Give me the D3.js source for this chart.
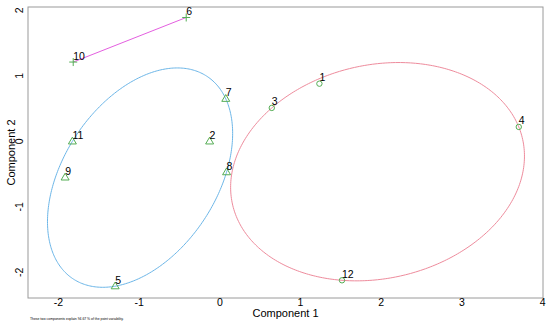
<!DOCTYPE html>
<html>
<head>
<meta charset="utf-8">
<script src="https://cdn.jsdelivr.net/npm/d3@7"></script>
<style>
  body { margin: 0; background: #fff; }
  text { font-family: "Liberation Sans", Arial, sans-serif; }
</style>
</head>
<body>
<svg id="chart" width="550" height="326"></svg>
<script>
// component scores
var labels  = ['1', '2', '3', '4', '5', '6', '7', '8', '9', '10', '11', '12'];
var comp1   = [1.24, -0.12, 0.65, 3.71, -1.29, -0.41, 0.08, 0.09, -1.91, -1.81, -1.82, 1.52];
var comp2   = [0.88, 0.00, 0.51, 0.22, -2.21, 1.89, 0.65, -0.47, -0.55, 1.21, 0.00, -2.12];
var cluster = [1, 2, 1, 1, 2, 3, 2, 2, 2, 3, 2, 1];
var xTicks  = [-2, -1, 0, 1, 2, 3, 4];
var yTicks  = [-2, -1, 0, 1, 2];
var note    = 'These two components explain 94.67 % of the point variability.';

var clusColor = {1: '#ee8b9c', 2: '#6cb6e8', 3: '#e45fe0'};
var shapeOf   = {1: 'circle', 2: 'triangle', 3: 'plus'};
var pointColor = '#55ad55';

var svg = d3.select('#chart');
var padLeft = 28, padRight = 543, padTop = 7, padBottom = 298;
var fmt = d => d < 0 ? '-' + Math.abs(d) : String(d);

var xScale = d3.scaleLinear().domain([-2.37, 4.01]).range([padLeft, padRight]);
var yScale = d3.scaleLinear().domain([-2.39, 2.05]).range([padBottom, padTop]);

// frame
svg.append('rect')
  .attr('x', padLeft).attr('y', padTop)
  .attr('width', padRight - padLeft).attr('height', padBottom - padTop)
  .attr('fill', 'none').attr('stroke', '#9a9a9a').attr('stroke-width', 1);

// axes (labels only, R style)
var xAxis = d3.axisBottom(xScale).tickValues(xTicks).tickFormat(fmt).tickSize(0).tickPadding(1);
svg.append('g')
  .attr('transform', `translate(0, ${padBottom})`)
  .call(xAxis)
  .call(g => g.select('.domain').remove())
  .selectAll('text')
    .attr('font-size', '10.5px').attr('fill', '#000')
    .attr('font-family', '"Liberation Sans", Arial, sans-serif');

svg.append('g').selectAll('text')
  .data(yTicks)
  .enter()
  .append('text')
    .attr('transform', d => `translate(22.5, ${yScale(d)}) rotate(-90)`)
    .attr('text-anchor', 'middle')
    .attr('font-size', '10.5px')
    .text(fmt);

svg.append('text')
  .attr('x', (padLeft + padRight) / 2).attr('y', 316.5)
  .attr('text-anchor', 'middle').attr('font-size', '11px')
  .text('Component 1');

svg.append('text')
  .attr('transform', `translate(15, ${(padTop + padBottom) / 2}) rotate(-90)`)
  .attr('text-anchor', 'middle').attr('font-size', '11px')
  .text('Component 2');

svg.append('text')
  .attr('x', 30).attr('y', 320)
  .attr('font-size', '3.4px')
  .text(note);

// minimum volume ellipse (Khachiyan) for each cluster
function inv3(m) {
  var a = m[0][0], b = m[0][1], c = m[0][2],
      d = m[1][0], e = m[1][1], f = m[1][2],
      g = m[2][0], h = m[2][1], i = m[2][2];
  var A = e * i - f * h, B = -(d * i - f * g), C = d * h - e * g;
  var det = a * A + b * B + c * C;
  return [
    [A / det, -(b * i - c * h) / det, (b * f - c * e) / det],
    [B / det, (a * i - c * g) / det, -(a * f - c * d) / det],
    [C / det, -(a * h - b * g) / det, (a * e - b * d) / det]
  ];
}

function mvee(pts) {
  var n = pts.length, d = 2;
  var u = pts.map(() => 1 / n);
  var Q = pts.map(p => [p[0], p[1], 1]);
  for (var it = 0; it < 20000; it++) {
    var X = [[0, 0, 0], [0, 0, 0], [0, 0, 0]];
    Q.forEach((q, k) => {
      for (var r = 0; r < 3; r++)
        for (var s = 0; s < 3; s++) X[r][s] += u[k] * q[r] * q[s];
    });
    var Xi = inv3(X);
    var M = Q.map(q => {
      var v = 0;
      for (var r = 0; r < 3; r++)
        for (var s = 0; s < 3; s++) v += q[r] * Xi[r][s] * q[s];
      return v;
    });
    var j = d3.maxIndex(M);
    var step = (M[j] - d - 1) / ((d + 1) * (M[j] - 1));
    var nu = u.map(w => w * (1 - step));
    nu[j] += step;
    var diff = Math.sqrt(d3.sum(nu, (w, k) => (w - u[k]) * (w - u[k])));
    u = nu;
    if (diff < 1e-9) break;
  }
  var cx = d3.sum(pts, (p, k) => u[k] * p[0]);
  var cy = d3.sum(pts, (p, k) => u[k] * p[1]);
  // shape matrix S = d * (P U P^T - c c^T); ellipse = c + chol(S) * unit circle
  var sxx = d * (d3.sum(pts, (p, k) => u[k] * p[0] * p[0]) - cx * cx);
  var sxy = d * (d3.sum(pts, (p, k) => u[k] * p[0] * p[1]) - cx * cy);
  var syy = d * (d3.sum(pts, (p, k) => u[k] * p[1] * p[1]) - cy * cy);
  var l11 = Math.sqrt(sxx), l21 = sxy / l11, l22 = Math.sqrt(syy - l21 * l21);
  return d3.range(0, 361).map(t => {
    var a = t * Math.PI / 180, ca = Math.cos(a), sa = Math.sin(a);
    return [cx + l11 * ca, cy + l21 * ca + l22 * sa];
  });
}

var line = d3.line().x(d => xScale(d[0])).y(d => yScale(d[1]));

[1, 2, 3].forEach(k => {
  var pts = comp1.map((x, i) => [x, comp2[i]]).filter((p, i) => cluster[i] === k);
  var path = pts.length > 2 ? mvee(pts) : pts;
  svg.append('path')
    .attr('d', line(path))
    .attr('fill', 'none')
    .attr('stroke', clusColor[k])
    .attr('stroke-width', 1);
});

// points
var pts = svg.append('g').selectAll('g.pt')
  .data(labels)
  .enter()
  .append('g')
    .classed('pt', true)
    .attr('transform', (d, i) => `translate(${xScale(comp1[i])}, ${yScale(comp2[i])})`);

pts.each(function(d, i) {
  var g = d3.select(this);
  var shape = shapeOf[cluster[i]];
  if (shape === 'plus') {
    g.append('path').attr('d', 'M-4,0H4M0,-4V4')
      .attr('stroke', pointColor).attr('stroke-width', 1).attr('fill', 'none');
  } else if (shape === 'triangle') {
    g.append('path').attr('d', 'M0,-4.2L4,2.6L-4,2.6Z')
      .attr('stroke', pointColor).attr('stroke-width', 1).attr('fill', 'none');
  } else {
    g.append('circle').attr('r', 2.7)
      .attr('stroke', pointColor).attr('stroke-width', 1).attr('fill', 'none');
  }
});

pts.append('text')
  .attr('x', 0).attr('y', -2.5)
  .attr('font-size', '10.5px')
  .text(d => d);
</script>
</body>
</html>
